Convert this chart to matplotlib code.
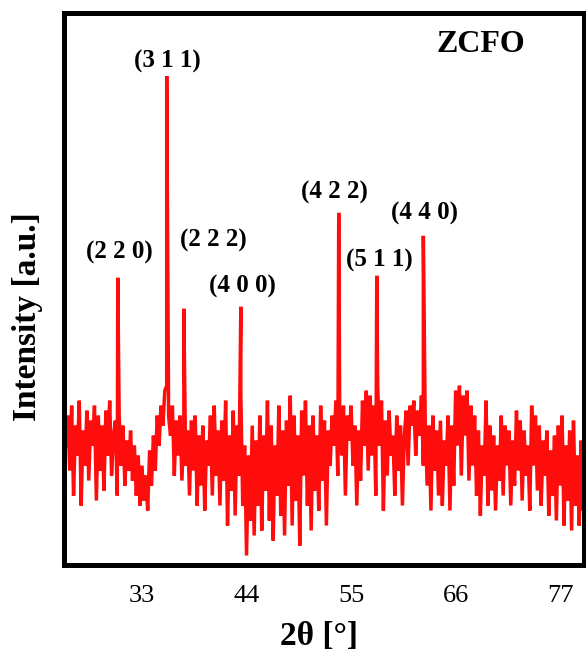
import matplotlib
matplotlib.use("Agg")
import matplotlib.pyplot as plt
import numpy as np

plt.rcParams["font.family"] = ["Liberation Serif", "DejaVu Serif"]

# background (noise) intensity, sampled every 0.2 deg starting at 25.0 deg
BG_START = 25.0
BG_STEP = 0.2
background = [
    120, 150, 95, 160, 70,    # 25
    140, 110, 165, 60, 135,   # 26
    100, 155, 85, 145, 120,   # 27
    160, 65, 150, 95, 140,    # 28
    75, 155, 110, 165, 90,    # 29
    130, 145, 70, 150, 100,   # 30
    140, 80, 125, 95, 135,    # 31
    85, 120, 70, 110, 60,     # 32
    100, 65, 90, 55, 115,     # 33
    80, 130, 95, 150, 120,    # 34
    160, 140, 175, 180, 150,  # 35
    130, 160, 90, 145, 110,   # 36
    150, 85, 140, 100, 135,   # 37
    70, 145, 95, 150, 60,     # 38
    130, 80, 140, 55, 125,    # 39
    100, 150, 70, 160, 90,    # 40
    135, 60, 145, 85, 165,    # 41
    40, 130, 75, 155, 50,     # 42
    140, 90, 170, 60, 120,    # 43
    10, 110, 45, 140, 30,     # 44
    125, 60, 150, 35, 130,    # 45
    75, 165, 45, 140, 25,     # 46
    120, 70, 160, 50, 135,    # 47
    30, 145, 80, 170, 40,     # 48
    150, 65, 130, 20, 155,    # 49
    90, 165, 60, 140, 35,     # 50
    150, 75, 130, 55, 160,    # 51
    85, 145, 40, 135, 100,    # 52
    150, 120, 165, 90, 155,   # 53
    110, 160, 70, 150, 125,   # 54
    160, 100, 140, 60, 135,   # 55
    85, 165, 120, 175, 95,    # 56
    170, 110, 160, 70, 180,   # 57
    120, 165, 55, 145, 90,    # 58
    155, 110, 130, 70, 150,   # 59
    95, 140, 60, 130, 155,    # 60
    100, 160, 140, 165, 110,  # 61
    155, 130, 170, 100, 145,  # 62
    80, 140, 55, 150, 95,     # 63
    135, 70, 145, 60, 125,    # 64
    100, 150, 55, 140, 80,    # 65
    175, 120, 180, 90, 170,   # 66
    130, 175, 85, 160, 100,   # 67
    150, 70, 135, 50, 120,    # 68
    90, 165, 60, 140, 75,     # 69
    130, 55, 120, 85, 150,    # 70
    70, 140, 100, 135, 60,    # 71
    125, 80, 155, 95, 145,    # 72
    65, 135, 90, 120, 55,     # 73
    160, 100, 150, 75, 140,   # 74
    60, 125, 90, 135, 50,     # 75
    115, 70, 130, 45, 140,    # 76
    80, 150, 40, 120, 65,     # 77
    135, 35, 145, 60, 110,    # 78
    40, 125, 55, 75, 0,       # 79
]

# diffraction peaks
peak_pos = [30.45, 35.6, 37.4, 43.4, 53.7, 57.7, 62.6]
peak_int = [288, 490, 257, 259, 353, 290, 330]

# peak labels: text, x, y
label_text = ["(2 2 0)", "(3 1 1)", "(2 2 2)", "(4 0 0)", "(4 2 2)", "(5 1 1)", "(4 4 0)"]
label_x = [30.6, 35.65, 40.55, 43.6, 53.3, 58.0, 62.75]
label_y = [313, 505, 325, 279, 373, 305, 352]

xticks = [33, 44, 55, 66, 77]

bg_x = BG_START + BG_STEP * np.arange(len(background))
x = np.concatenate([bg_x, peak_pos])
y = np.concatenate([background, peak_int])
order = np.argsort(x, kind="stable")
x, y = x[order], y[order]

fig = plt.figure(figsize=(5.86, 6.56), dpi=100)
ax = fig.add_axes([0.1085, 0.138, 0.888, 0.842])
ax.plot(x, y, color="#ff0d0d", lw=2.5, solid_joinstyle="miter")

ax.set_xlim(24.75, 79.5)
ax.set_ylim(0, 553)
ax.set_xticks(xticks)
ax.set_yticks([])
ax.tick_params(axis="x", length=0, pad=14, labelsize=19)
for s in ax.spines.values():
    s.set_linewidth(3.6)

for t, lx, ly in zip(label_text, label_x, label_y):
    ax.text(lx, ly, t, ha="center", va="center", fontsize=18, fontweight="bold")
ax.text(68.65, 522, "ZCFO", ha="center", va="center", fontsize=23, fontweight="bold")

ax.set_xlabel("2θ [°]", fontsize=24, fontweight="bold")
ax.xaxis.set_label_coords(0.49, -0.1)
ax.set_ylabel("Intensity [a.u.]", fontsize=24, fontweight="bold")
ax.yaxis.set_label_coords(-0.04, 0.45)

fig.savefig("out.png", dpi=100)
